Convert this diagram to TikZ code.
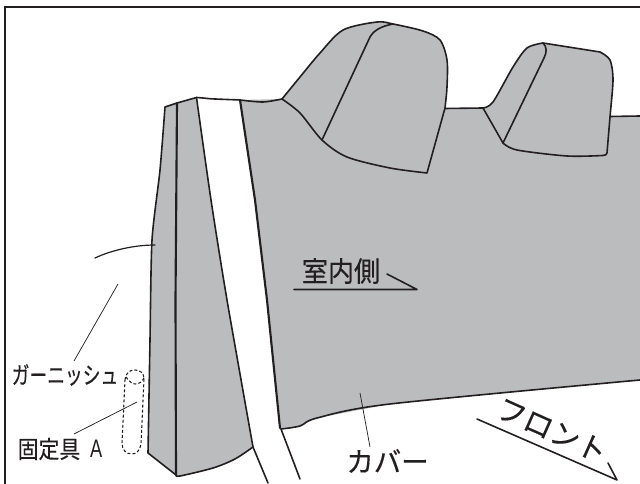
\documentclass[tikz,border=0pt]{standalone}
\usepackage{fontspec}
\setmainfont[FakeBold=.3]{Noto Sans CJK JP}
\newfontfamily\latinfont{Liberation Sans}
\usetikzlibrary{calc,positioning}
\definecolor{seatgray}{HTML}{BBBCBE}
\definecolor{inkline}{HTML}{231F20}
\tikzset{
  seat/.style={fill=seatgray,draw=inkline,line width=1.2pt,line join=round},
  edge/.style={draw=inkline,line width=1.2pt,line cap=round,line join=round},
  thick edge/.style={edge,line width=1.6pt},
  leader/.style={draw=inkline,line width=.55pt},
  clip dash/.style={draw=inkline,line width=.8pt,dash pattern=on 2.2pt off 1.6pt},
  label/.style={inner sep=0pt,text=inkline,font=\fontsize{21}{21}\selectfont}
}
\begin{document}
\begin{tikzpicture}[x=.75pt,y=-.75pt]
  \useasboundingbox (0,0) rectangle (640,484);
  % frame
  \draw[inkline,line width=1.6pt] (5,484) -- (5,7) -- (640,7);

  % left trim panel
  \path[seat] plot[smooth,tension=.4] coordinates {(148,453) (150,340) (152,240) (160,170) (165,107)}
    -- (177,103) -- (196.5,97.5)
    -- plot[smooth,tension=.4] coordinates {(196.5,97.5) (211,200) (227,300) (253,447)}
    -- plot[smooth,tension=.5] coordinates {(253,447) (235,459) (213,468) (180,476) (176,475)}
    -- cycle;
  \draw[thick edge] (177,103) -- (175.5,300) -- (176,475);

  % main cover
  \path[fill=seatgray] (240,100) -- (282,99) -- (350,100) -- (445,108.5) -- (483,108) -- (610,116.5) -- (640,116)
    -- (640,380) -- (390,404) -- (317,418) -- (300,426) -- (281,429) -- (267,300) -- (255,200) -- cycle;
  \draw[edge] (445,108.5) -- (483,108);
  \draw[edge] (610,116.5) -- (640,116);
  \draw[edge] plot[smooth,tension=.5] coordinates {(640,380) (390,404) (317,418) (300,426) (281,429)};
  \draw[thick edge] (240,100) -- (255,200) -- (267,300) -- (280,428);
  \draw[edge] (196.5,97.5) .. controls (205,98) and (210,99) .. (215,99) -- (240,100);
  \draw[edge] plot[smooth,tension=.5] coordinates {(240,100) (263,102) (282,99)};

  % free ends of the pillar edges
  \coordinate (stripl) at (268,483);
  \coordinate (stripr) at (300,479);
  \draw[edge] (253,447) -- (stripl);
  \draw[edge] (281,429) -- (stripr);

  % first headrest
  \path[seat] plot[smooth,tension=.5] coordinates {(282,99) (300,77) (320,53) (343,30) (377,22) (393,24) (423,31) (440,40) (447,60) (447,87) (445,108)}
    -- (427,173)
    -- plot[smooth,tension=.5] coordinates {(427,173) (390,168) (347,157) (322,140) (300,113) (282,99)};
  \draw[edge] (393,24) .. controls (382,26) and (374,30) .. (370,37) -- (322,140);

  % second headrest
  \path[seat] plot[smooth,tension=.5] coordinates {(483,108) (493,102) (513,67) (527,48) (543,43)}
    -- (600,52)
    -- plot[smooth,tension=.5] coordinates {(600,52) (610,60) (613,80) (610,117) (607,153)}
    .. controls (606,155) .. (603,155.5)
    -- plot[smooth,tension=.5] coordinates {(603,155.5) (567,156) (517,150) (503,143)}
    -- cycle;
  \draw[edge] (543,43) .. controls (547,47) and (547,52) .. (544,58) -- (503,143);

  % clip outline
  \draw[clip dash] (125,380) .. controls (126,372) and (130,370) .. (135,370)
    .. controls (140,370) and (144,373) .. (144,379) -- (141,444)
    .. controls (140,451) and (136,454) .. (132,454)
    .. controls (126,454) and (122,450) .. (122,443) -- cycle;
  \draw[clip dash] (126,377) .. controls (129,381) and (132,384) .. (135,384)
    .. controls (139,384) and (142,382) .. (144,378);

  % labels
  \node[label,xscale=.93] (interior) at (341,271) {室内側};
  \node[label,xscale=.98] (cover) at (387.5,461) {カバー};
  \node[label,font=\fontsize{18}{18}\selectfont,xscale=.74] (garnish) at (65,375) {ガーニッシュ};
  \node[label,font=\fontsize{18}{18}\selectfont,xscale=.87] (clipa) at (49,449) {固定具};
  \node[label,font=\latinfont\fontsize{19}{19}\selectfont,xscale=.72,right=7pt of clipa] (clipname) {A};
  \node[label,rotate=-24,font=\fontsize{22}{22}\selectfont] (front) at (552,430) {フロント};

  % trim and its leaders
  \coordinate (trimend) at (155,245);
  \coordinate (trimstart) at (95,258);
  \draw[edge,line width=.9pt] (trimstart) .. controls (112,250) and (135,245) .. (trimend);
  \coordinate (garnishtip) at (118,284);
  \coordinate (cliptip) at (137,402);
  \coordinate (covertip) at (360,393);
  \draw[leader] (garnishtip) -- (74,361);
  \draw[leader] (cliptip) -- (74,434);
  \draw[leader] (covertip) -- (370,447);

  % direction marks
  \coordinate (interiorl) at (294,289.5);
  \coordinate (interiorr) at (417,289.5);
  \coordinate (interiorb) at (387,274);
  \draw[edge] (interiorl) -- (interiorr) -- (interiorb);
  \coordinate (frontl) at (477,419);
  \coordinate (frontr) at (617,480);
  \coordinate (frontb) at (608,463);
  \draw[edge] (frontl) -- (frontr) -- (frontb);
\end{tikzpicture}
\end{document}
